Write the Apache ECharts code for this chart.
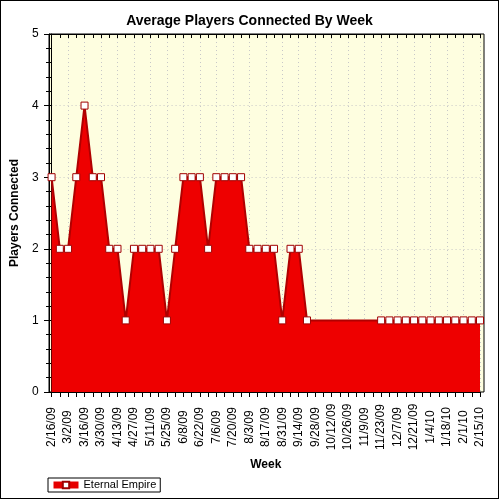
<!DOCTYPE html>
<html><head><meta charset="utf-8">
<script src="https://cdn.jsdelivr.net/npm/echarts@6/dist/echarts.min.js"></script>
<style>html,body{margin:0;padding:0;background:#fff}#c{width:497px;height:497px;border:1px solid #000}</style>
</head><body><div id="c"></div>
<script>
var weeks = ['2/16/09','2/23/09','3/2/09','3/9/09','3/16/09','3/23/09','3/30/09','4/6/09','4/13/09','4/20/09',
 '4/27/09','5/4/09','5/11/09','5/18/09','5/25/09','6/1/09','6/8/09','6/15/09','6/22/09','6/29/09',
 '7/6/09','7/13/09','7/20/09','7/27/09','8/3/09','8/10/09','8/17/09','8/24/09','8/31/09','9/7/09',
 '9/14/09','9/21/09','9/28/09','10/5/09','10/12/09','10/19/09','10/26/09','11/2/09','11/9/09','11/16/09',
 '11/23/09','11/30/09','12/7/09','12/14/09','12/21/09','12/28/09','1/4/10','1/11/10','1/18/10','1/25/10',
 '2/1/10','2/8/10','2/15/10'];
var players = [3,2,2,3,4,3,3,2,2,1,
 2,2,2,2,1,2,3,3,3,2,
 3,3,3,3,2,2,2,2,1,2,
 2,1,null,null,null,null,null,null,null,null,
 1,1,1,1,1,1,1,1,1,1,
 1,1,1];
var seriesName = 'Eternal Empire';
var yTicks = [0,1,2,3,4,5];
var FONT = 'Liberation Sans, Arial, sans-serif';

var chart = echarts.init(document.getElementById('c'));
chart.setOption({
  animation: false,
  textStyle: {fontFamily: FONT},
  title: {text: 'Average Players Connected By Week', left: 'center', top: 8,
    textStyle: {fontSize: 14, fontWeight: 'bold', color: '#000', fontFamily: FONT}},
  legend: {
    data: [seriesName], left: 47, top: 477, orient: 'horizontal',
    borderColor: '#000', borderWidth: 1, padding: [1, 4, 1, 2],
    itemWidth: 25, itemHeight: 8, itemGap: 4,
    lineStyle: {width: 7, color: '#e60000'},
    textStyle: {fontSize: 11, color: '#000', fontFamily: FONT, lineHeight: 12}
  },
  grid: [
    {left: 49, right: 18, top: 33, bottom: 106, containLabel: false},
    {left: 48, right: 14, top: 33, bottom: 106, show: true, backgroundColor: '#fefee0',
     borderColor: '#000', borderWidth: 1}
  ],
  xAxis: [
    {type: 'category', gridIndex: 0, data: weeks, boundaryGap: false, position: 'bottom',
     name: 'Week', nameLocation: 'middle', nameGap: 67,
     nameTextStyle: {fontSize: 12, fontWeight: 'bold', color: '#000', fontFamily: FONT},
     axisLine: {lineStyle: {color: '#000', width: 1}},
     axisTick: {show: true, interval: 0, length: 5, lineStyle: {color: '#000'}},
     axisLabel: {interval: 1, rotate: 90, margin: 35, align: 'center', verticalAlign: 'middle',
       fontSize: 12, color: '#000', fontFamily: FONT},
     splitLine: {show: true, interval: 1, lineStyle: {color: '#c8c8c8', type: [1, 3], width: 1}}},
    {type: 'category', gridIndex: 0, data: weeks, boundaryGap: false, position: 'top',
     axisLine: {lineStyle: {color: '#000'}},
     axisTick: {show: true, inside: true, interval: 0, length: 4, lineStyle: {color: '#000'}},
     axisLabel: {show: false}, splitLine: {show: false}},
    {type: 'value', gridIndex: 1, show: false, min: 0, max: 1}
  ],
  yAxis: [
    {type: 'value', gridIndex: 0, min: yTicks[0], max: yTicks[yTicks.length - 1], interval: 1,
     name: 'Players Connected', nameLocation: 'middle', nameGap: 26,
     nameTextStyle: {fontSize: 12, fontWeight: 'bold', color: '#000', fontFamily: FONT},
     axisLine: {show: true, lineStyle: {color: '#000'}},
     axisTick: {show: true, length: 7, lineStyle: {color: '#000'}},
     minorTick: {show: true, splitNumber: 5, length: 4, lineStyle: {color: '#000'}},
     axisLabel: {fontSize: 12, color: '#000', margin: 13, fontFamily: FONT},
     splitLine: {show: true, lineStyle: {color: '#c8c8c8', type: [1, 3]}}},
    {type: 'value', gridIndex: 1, min: yTicks[0], max: yTicks[yTicks.length - 1], interval: 1,
     position: 'right',
     axisLine: {show: true, lineStyle: {color: '#000'}},
     axisTick: {show: true, inside: true, length: 5, lineStyle: {color: '#000'}},
     minorTick: {show: true, splitNumber: 5, length: 3, lineStyle: {color: '#000'}},
     axisLabel: {show: false}, splitLine: {show: false}}
  ],
  series: [{
    name: seriesName, type: 'line', xAxisIndex: 0, yAxisIndex: 0, data: players,
    connectNulls: true, showAllSymbol: true, symbol: 'rect', symbolSize: 7,
    itemStyle: {color: '#fff', borderColor: '#a00000', borderWidth: 1},
    lineStyle: {color: '#b00000', width: 2},
    areaStyle: {color: '#ee0000', opacity: 1},
    z: 3
  }]
});
</script></body></html>
